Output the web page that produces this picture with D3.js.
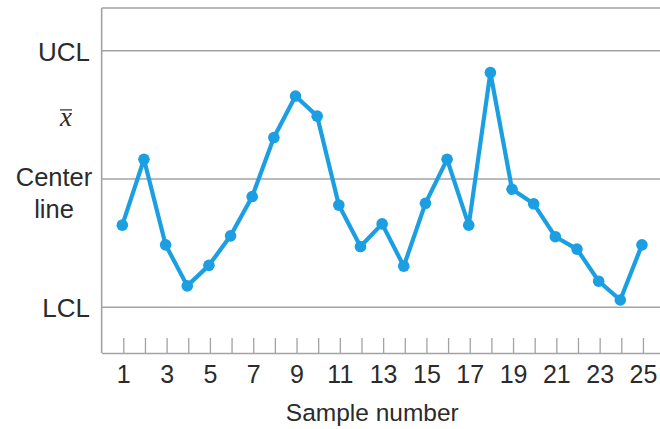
<!DOCTYPE html>
<html>
<head>
<meta charset="utf-8">
<script src="https://cdn.jsdelivr.net/npm/d3@7"></script>
<style>
  html, body { margin: 0; padding: 0; background: #fff; }
  svg { display: block; }
  text { font-family: "Liberation Sans", Arial, sans-serif; fill: #2b2b2b; }
</style>
</head>
<body>
<svg id="chart" width="660" height="429"></svg>
<script>
// Sample numbers (x) and plotted sample means, in sigma units relative to the center line
const samples = d3.range(1, 26);
const values = [-1.08, 0.46, -1.54, -2.50, -2.02, -1.33, -0.41, 0.97, 1.94, 1.47,
                 -0.61, -1.58, -1.05, -2.04, -0.57, 0.46, -1.08, 2.49, -0.24, -0.58,
                 -1.35, -1.64, -2.39, -2.83, -1.54];
const xTickLabels = samples.map(d => (d % 2 === 1 ? String(d) : ""));
const limitNames = ["UCL", "Center line", "LCL"];
const limitValues = [3, 0, -3];
const xbarValue = 1.5;

const svg = d3.select("#chart");
const x = d3.scaleLinear().domain([0, 26]).range([101.65, 664.6]);
const y = d3.scaleLinear().domain([-4.07, 4]).range([353, 8]);

const frameColor = "#a3a3a3";
const lineColor = "#1b9fe2";

// frame (left and top; right edge lies outside the view)
svg.append("line")
  .attr("x1", x(0)).attr("x2", x(0)).attr("y1", y(4)).attr("y2", y(-4.07))
  .attr("stroke", frameColor).attr("stroke-width", 1.6);
svg.append("line")
  .attr("x1", x(0)).attr("x2", x(26)).attr("y1", y(4)).attr("y2", y(4))
  .attr("stroke", frameColor).attr("stroke-width", 1.6);

// control limit lines
svg.selectAll(".limit").data(limitValues).enter().append("line")
  .attr("class", "limit")
  .attr("x1", x(0)).attr("x2", x(26))
  .attr("y1", d => y(d)).attr("y2", d => y(d))
  .attr("stroke", frameColor).attr("stroke-width", 1.6);

// bottom axis with inward ticks
const axis = d3.axisBottom(x)
  .tickValues(samples)
  .tickSizeInner(-15)
  .tickSizeOuter(0)
  .tickPadding(12)
  .tickFormat((d, i) => xTickLabels[i]);
const gx = svg.append("g").attr("transform", `translate(0,${y(-4.07)})`).call(axis);
gx.select(".domain").attr("stroke", frameColor).attr("stroke-width", 1.6);
gx.selectAll(".tick line").attr("stroke", frameColor).attr("stroke-width", 1.3);
gx.selectAll(".tick text")
  .style("font-family", "'Liberation Sans', Arial, sans-serif")
  .attr("font-size", 25).style("fill", "#2b2b2b");

// axis title
svg.append("text")
  .attr("x", x(12.5)).attr("y", 421)
  .attr("text-anchor", "middle").attr("font-size", 24.5)
  .text("Sample number");

// y labels
svg.append("text").attr("x", 90).attr("y", y(limitValues[0]) + 10)
  .attr("text-anchor", "end").attr("font-size", 26).text(limitNames[0]);
svg.append("text").attr("x", 90).attr("y", y(limitValues[2]) + 10)
  .attr("text-anchor", "end").attr("font-size", 26).text(limitNames[2]);
const cl = svg.append("text").attr("text-anchor", "middle").attr("font-size", 25.5);
cl.append("tspan").attr("x", 54).attr("y", y(limitValues[1]) + 7).text("Center");
cl.append("tspan").attr("x", 54).attr("y", y(limitValues[1]) + 39).text("line");

// x-bar label
svg.append("text")
  .attr("x", 66).attr("y", y(xbarValue) + 11)
  .attr("text-anchor", "middle")
  .style("font-family", "'Liberation Serif', 'DejaVu Serif', serif")
  .style("font-style", "italic").attr("font-size", 27)
  .text("x");
svg.append("line")
  .attr("x1", 60).attr("x2", 72)
  .attr("y1", y(xbarValue) - 5).attr("y2", y(xbarValue) - 5)
  .attr("stroke", "#2b2b2b").attr("stroke-width", 1.2);

// data line and points
const data = samples.map((s, i) => ({ s, v: values[i] }));
svg.append("path").datum(data)
  .attr("fill", "none").attr("stroke", lineColor)
  .attr("stroke-width", 4.2).attr("stroke-linejoin", "round")
  .attr("d", d3.line().x(d => x(d.s) - 1).y(d => y(d.v)));
svg.selectAll(".pt").data(data).enter().append("circle")
  .attr("class", "pt")
  .attr("cx", d => x(d.s) - 1).attr("cy", d => y(d.v))
  .attr("r", 5.8).attr("fill", lineColor);
</script>
</body>
</html>
